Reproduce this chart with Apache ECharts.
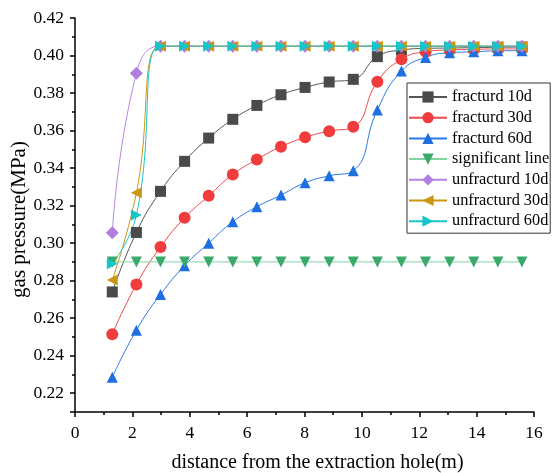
<!DOCTYPE html>
<html>
<head>
<meta charset="utf-8">
<script src="https://cdn.jsdelivr.net/npm/echarts@6/dist/echarts.min.js"></script>
<style>html,body{margin:0;padding:0;background:#fff;}#c{width:557px;height:473px;}</style>
</head>
<body>
<div id="c"></div>
<script>
var distances = [1.3, 2.14, 2.98, 3.82, 4.66, 5.5, 6.34, 7.18, 8.02, 8.86, 9.7, 10.54, 11.38, 12.22, 13.06, 13.9, 14.74, 15.58];
var fractured10 = [0.274, 0.3057, 0.3276, 0.3436, 0.356, 0.366, 0.3734, 0.3791, 0.383, 0.3859, 0.3873, 0.3994, 0.4029, 0.4038, 0.404, 0.4042, 0.4044, 0.4045];
var fractured30 = [0.2515, 0.278, 0.2979, 0.3135, 0.3252, 0.3366, 0.3446, 0.3514, 0.3564, 0.3597, 0.362, 0.386, 0.398, 0.402, 0.403, 0.4033, 0.4035, 0.4035];
var fractured60 = [0.2285, 0.2536, 0.2726, 0.288, 0.300, 0.3114, 0.3194, 0.3256, 0.3322, 0.3359, 0.3386, 0.371, 0.3917, 0.399, 0.4015, 0.402, 0.4025, 0.4026];
var significant = [0.29, 0.29, 0.29, 0.29, 0.29, 0.29, 0.29, 0.29, 0.29, 0.29, 0.29, 0.29, 0.29, 0.29, 0.29, 0.29, 0.29, 0.29];
var unfractured10 = [0.3055, 0.3905, 0.405, 0.405, 0.405, 0.405, 0.405, 0.405, 0.405, 0.405, 0.405, 0.405, 0.405, 0.405, 0.405, 0.405, 0.405, 0.405];
var unfractured30 = [0.2803, 0.3268, 0.405, 0.405, 0.405, 0.405, 0.405, 0.405, 0.405, 0.405, 0.405, 0.405, 0.405, 0.405, 0.405, 0.405, 0.405, 0.405];
var unfractured60 = [0.289, 0.315, 0.405, 0.405, 0.405, 0.405, 0.405, 0.405, 0.405, 0.405, 0.405, 0.405, 0.405, 0.405, 0.405, 0.405, 0.405, 0.405];
var seriesNames = ['fracturd 10d', 'fracturd 30d', 'fracturd 60d', 'significant line', 'unfracturd 10d', 'unfracturd 30d', 'unfracturd 60d'];
var xTicks = [0, 2, 4, 6, 8, 10, 12, 14, 16];

var FONT = '"Liberation Serif", "Times New Roman", serif';
function pairs(ys) { return distances.map(function (x, i) { return [x, ys[i]]; }); }
function mk(name, ys, symbol, rot, mColor, lColor, smooth) {
  return {
    name: name, type: 'line', data: pairs(ys), yAxisIndex: 0,
    symbol: symbol, symbolSize: symbol === 'diamond' ? 13 : (symbol === 'circle' ? 12 : 11),
    symbolRotate: rot, smooth: smooth,
    itemStyle: { color: mColor },
    lineStyle: { color: lColor, width: 1 },
    emphasis: { disabled: true }, animation: false
  };
}
var chart = echarts.init(document.getElementById('c'));
chart.setOption({
  animation: false,
  grid: { left: 75, right: 23, top: 18, bottom: 61, containLabel: false, outerBoundsMode: 'none' },
  legend: {
    orient: 'vertical', left: 407, top: 83,
    data: seriesNames,
    itemWidth: 38, itemHeight: 14, itemGap: 4.7,
    padding: [6, 1, 4, 1],
    borderColor: '#333', borderWidth: 1,
    textStyle: { fontFamily: FONT, fontSize: 16.3, color: '#000' }
  },
  xAxis: {
    type: 'value', min: 0, max: 16, interval: 2,
    name: 'distance from the extraction hole(m)', nameLocation: 'middle', nameGap: 41,
    nameMoveOverlap: false,
    nameTextStyle: { fontFamily: FONT, fontSize: 20, color: '#000', padding: [0, 0, 0, 26] },
    axisLine: { lineStyle: { color: '#000', width: 1.5 } },
    axisTick: { length: 5, lineStyle: { color: '#000', width: 1.5 } },
    minorTick: { show: true, splitNumber: 2, length: 3, lineStyle: { color: '#000', width: 1.5 } },
    axisLabel: { fontFamily: FONT, fontSize: 17.5, color: '#000', margin: 12,
      formatter: function (v) { return xTicks.indexOf(v) >= 0 ? String(v) : ''; } },
    splitLine: { show: false }
  },
  yAxis: [{
    type: 'value', min: 0.21, max: 0.42, minInterval: 0.02, maxInterval: 0.02,
    name: 'gas pressure(MPa)', nameLocation: 'middle', nameGap: 45,
    nameMoveOverlap: false,
    nameTextStyle: { fontFamily: FONT, fontSize: 21, color: '#000', padding: [0, 9, 0, 0] },
    axisLine: { show: true, lineStyle: { color: '#000', width: 1.5 } },
    axisTick: { length: 5, lineStyle: { color: '#000', width: 1.5 } },
    axisLabel: { fontFamily: FONT, fontSize: 17.5, color: '#000', margin: 11,
      formatter: function (v) { return Math.abs(v - 0.21) < 1e-6 ? '' : v.toFixed(2); } },
    splitLine: { show: false }
  }, {
    type: 'value', min: 0.21, max: 0.42, interval: 0.01, position: 'left',
    axisLine: { show: false },
    axisTick: { show: true, length: 3, lineStyle: { color: '#000', width: 1.5 } },
    axisLabel: { show: false }, splitLine: { show: false }
  }],
  series: [
    mk('fracturd 10d', fractured10, 'rect', 0, '#4a4a4a', '#555555', 0.5),
    mk('fracturd 30d', fractured30, 'circle', 0, '#f03c3c', '#f04848', 0.5),
    mk('fracturd 60d', fractured60, 'triangle', 0, '#1f6fe0', '#2a78e4', 0.5),
    mk('significant line', significant, 'triangle', 180, '#3aaa6a', '#80d4a2', 0),
    mk('unfracturd 10d', unfractured10, 'diamond', 0, '#b07ee0', '#b585e2', 0.5),
    mk('unfracturd 30d', unfractured30, 'triangle', 90, '#cc9610', '#cc9610', 0.5),
    mk('unfracturd 60d', unfractured60, 'triangle', -90, '#16c6c6', '#16c6c6', 0.5)
  ]
});
</script>
</body>
</html>
